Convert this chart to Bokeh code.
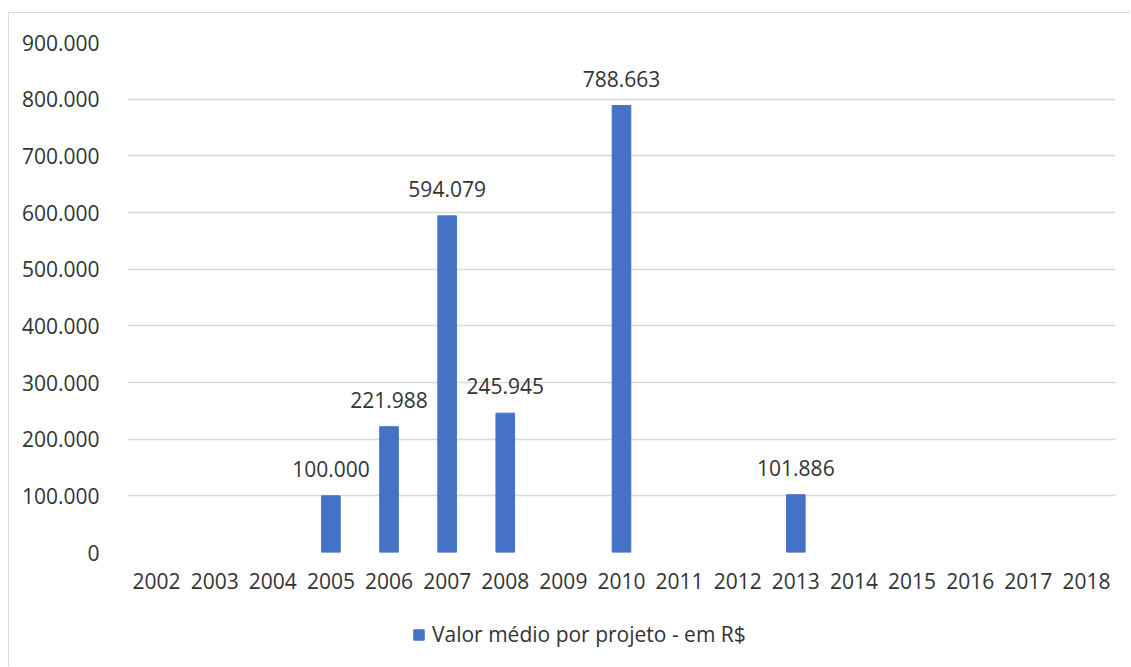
from bokeh.plotting import figure
from bokeh.layouts import column
from bokeh.models import ColumnDataSource, FactorRange, FixedTicker, Legend, LegendItem, Range1d
from bokeh.embed import file_html
from bokeh.resources import INLINE
from bokeh.core.properties import value

years = [str(y) for y in range(2002, 2019)]
values = [0, 0, 0, 100000, 221988, 594079, 245945, 0, 788663, 0, 0, 101886, 0, 0, 0, 0, 0]
labels = ["", "", "", "100.000", "221.988", "594.079", "245.945", "", "788.663", "", "", "101.886", "", "", "", "", ""]
y_ticks = [0, 100000, 200000, 300000, 400000, 500000, 600000, 700000, 800000, 900000]
y_tick_labels = ["0", "100.000", "200.000", "300.000", "400.000", "500.000", "600.000", "700.000", "800.000", "900.000"]
series_name = "Valor médio por projeto - em R$"

FONT = "Open Sans"
TXT = "#333333"
BAR = "#4472C4"
FS = "21px"

bx = [y for y, v in zip(years, values) if v > 0]
bv = [v for v in values if v > 0]
bl = [l for l, v in zip(labels, values) if v > 0]
src = ColumnDataSource(dict(x=bx, top=bv, label=bl))

p = figure(x_range=FactorRange(factors=years, range_padding=0), y_range=Range1d(0, 900000),
           frame_width=988, frame_height=510,
           min_border_left=118, min_border_right=15, min_border_top=29, min_border_bottom=48,
           output_backend="svg", toolbar_location=None)
p.outline_line_color = None
p.background_fill_color = "white"

r = p.vbar(x="x", top="top", width=0.32, source=src, color=BAR)
p.text(x="x", y="top", text="label", source=src, y_offset=-19,
       text_align="center", text_baseline="bottom",
       text_font=value(FONT), text_font_size=FS, text_color=TXT)

p.xgrid.grid_line_color = None
p.ygrid.grid_line_color = "#d9d9d9"
p.ygrid.grid_line_width = 1.3
p.yaxis.ticker = FixedTicker(ticks=y_ticks)
p.yaxis.major_label_overrides = {t: l for t, l in zip(y_ticks, y_tick_labels)}

for ax in (p.xaxis, p.yaxis):
    ax.axis_line_color = None
    ax.major_tick_line_color = None
    ax.minor_tick_line_color = None
    ax.major_label_text_font = FONT
    ax.major_label_text_font_size = FS
    ax.major_label_text_color = TXT
p.yaxis.major_label_standoff = 22
p.xaxis.major_label_standoff = 14

# legend strip below the chart (its swatch renderer sits outside the visible range)
p2 = figure(width=1121, height=66, x_range=Range1d(0, 1), y_range=Range1d(0, 1),
            x_axis_location=None, y_axis_location=None,
            min_border_left=0, min_border_right=0, min_border_top=0, min_border_bottom=0,
            output_backend="svg", toolbar_location=None)
p2.outline_line_color = None
p2.grid.visible = False
src2 = ColumnDataSource(dict(x=[-10], top=[-10]))
r2 = p2.vbar(x="x", top="top", width=0.32, source=src2, color=BAR)
leg = Legend(items=[LegendItem(label=series_name, renderers=[r2])], location=(285, 18),
             orientation="horizontal", glyph_width=13, glyph_height=13, label_standoff=7,
             label_text_font=FONT, label_text_font_size=FS, label_text_color=TXT,
             border_line_color=None, background_fill_alpha=0, margin=0, padding=0)
p2.add_layout(leg, "center")

lay = column(p, p2, spacing=0)
lay.margin = (12, 0, 0, 8)
lay.styles = {"border-top": "1px solid #d9d9d9", "border-left": "1px solid #d9d9d9"}

open("out.html", "w").write(file_html(lay, INLINE))
